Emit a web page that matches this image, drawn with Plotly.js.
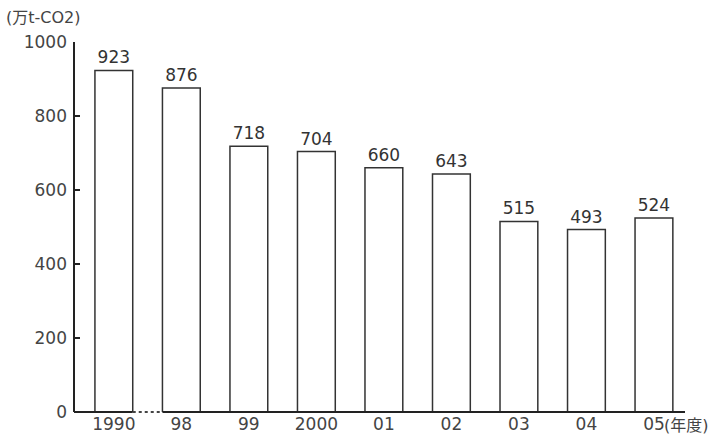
<!DOCTYPE html>
<html><head><meta charset="utf-8">
<script src="https://cdn.plot.ly/plotly-3.0.1.min.js"></script>
<style>html,body{margin:0;padding:0;background:#fff;}#chart{width:708px;height:437px;}</style>
</head><body><div id="chart"></div>
<script>
const categories = ["1990", "98", "99", "2000", "01", "02", "03", "04", "05"];
const emissions = [923, 876, 718, 704, 660, 643, 515, 493, 524];
const yTicks = [0, 200, 400, 600, 800, 1000];
const unitLabel = "(万t-CO2)";
const yearLabel = "(年度)";

const font = "'DejaVu Sans', 'Noto Sans CJK JP', sans-serif";
const barWidth = 0.56;
const idx = categories.map((c, i) => i);

const trace = {
  type: 'bar',
  x: idx,
  y: emissions,
  width: barWidth,
  text: emissions.map(String),
  textposition: 'outside',
  textfont: {family: font, size: 17, color: '#333'},
  cliponaxis: false,
  marker: {color: '#fff', line: {color: '#333', width: 1.5}},
  hoverinfo: 'x+y'
};

const half = barWidth / 2;
const shapes = [
  {type: 'line', xref: 'paper', yref: 'paper', x0: 0, x1: 0, y0: 0, y1: 1, line: {color: '#222', width: 2}},
  {type: 'line', xref: 'paper', yref: 'paper', x0: 0, x1: (idx[0] + half + 0.59) / 9.05, y0: 0, y1: 0, line: {color: '#222', width: 2}},
  {type: 'line', xref: 'paper', yref: 'paper', x0: (idx[0] + half + 0.59) / 9.05, x1: (idx[1] - half + 0.59) / 9.05, y0: 0, y1: 0, line: {color: '#444', width: 2, dash: 'dot'}},
  {type: 'line', xref: 'paper', yref: 'paper', x0: (idx[1] - half + 0.59) / 9.05, x1: 1, y0: 0, y1: 0, line: {color: '#222', width: 2}}
];

const layout = {
  width: 708, height: 437,
  margin: {l: 74, r: 23, t: 42, b: 25},
  paper_bgcolor: '#fff', plot_bgcolor: '#fff',
  showlegend: false,
  font: {family: font, color: '#444', size: 17},
  xaxis: {
    range: [-0.59, 8.46],
    tickmode: 'array', tickvals: idx, ticktext: categories,
    showline: false, showgrid: false, zeroline: false, ticks: '',
    tickfont: {family: font, size: 17, color: '#444'}
  },
  yaxis: {
    range: [0, 1000],
    tickmode: 'array', tickvals: yTicks, ticktext: yTicks.map(String),
    showline: false, showgrid: false, zeroline: false,
    ticks: 'inside', ticklen: 6, tickwidth: 2, tickcolor: '#222',
    tickfont: {family: font, size: 17, color: '#444'},
    ticklabelstandoff: 6
  },
  shapes: shapes,
  annotations: [
    {text: unitLabel, xref: 'paper', yref: 'paper', x: -0.115, y: 1.0, yshift: 25, xanchor: 'left', yanchor: 'middle', showarrow: false, font: {family: font, size: 16, color: '#444'}},
    {text: yearLabel, xref: 'paper', yref: 'paper', x: 0.962, y: 0, yshift: -13, xanchor: 'left', yanchor: 'middle', showarrow: false, font: {family: font, size: 16, color: '#444'}}
  ]
};

Plotly.newPlot('chart', [trace], layout, {displayModeBar: false, staticPlot: true});
</script></body></html>
